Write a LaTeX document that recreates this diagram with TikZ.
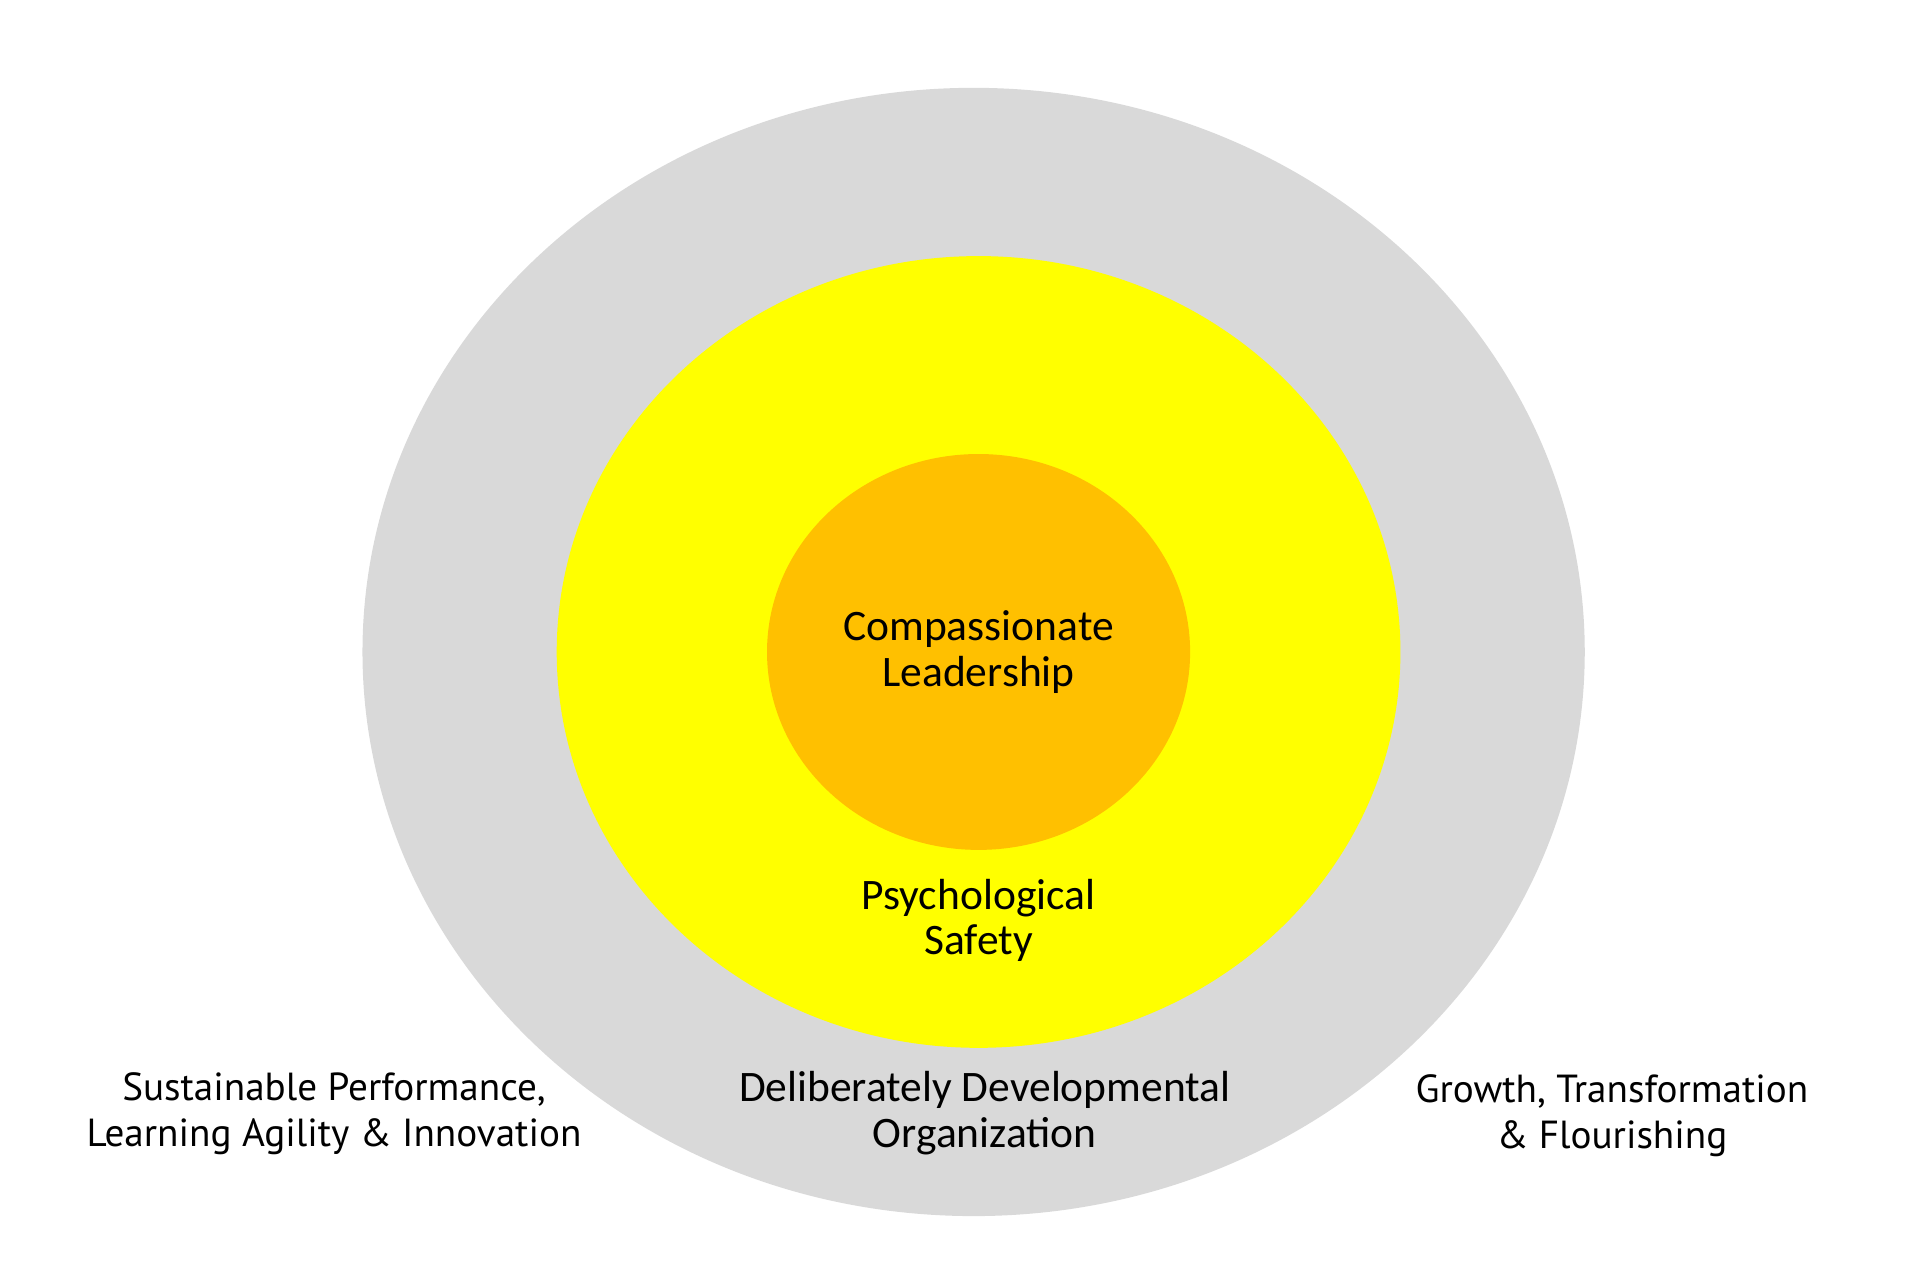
\documentclass[tikz,border=0pt]{standalone}
\usepackage{fontspec}
\setmainfont{Carlito}
\newfontfamily\outerfont{PT Sans}
\begin{document}
\begin{tikzpicture}[x=0.01cm,y=-0.01cm,
  ring/.style={draw=none},
  inlabel/.style={align=center,font=\fontsize{10}{10.5}\selectfont},
  outlabel/.style={align=center,font=\outerfont\fontsize{9}{10.5}\selectfont}]

  % canvas
  \useasboundingbox (0,0) rectangle (1552,1040);

  % rings
  \fill[ring,fill={rgb,255:red,217;green,217;blue,217}] (787,527) ellipse [x radius=494,y radius=456];
  \fill[ring,fill={rgb,255:red,255;green,255;blue,0}] (791,527) ellipse [x radius=341,y radius=320];
  \fill[ring,fill={rgb,255:red,255;green,192;blue,0}] (791,527) ellipse [x radius=171,y radius=160];

  % labels
  \node[inlabel] (lead) at (791,527) {Compassionate\\Leadership};
  \node[inlabel] (safety) at (791,744) {Psychological\\Safety};
  \node[inlabel] (ddo) at (796,900) {Deliberately Developmental\\Organization};
  \node[outlabel] (perf) at (270,900) {Sustainable Performance,\\Learning Agility \& Innovation};
  \node[outlabel] (growth) at (1303,902) {Growth, Transformation\\\& Flourishing};

\end{tikzpicture}
\end{document}
